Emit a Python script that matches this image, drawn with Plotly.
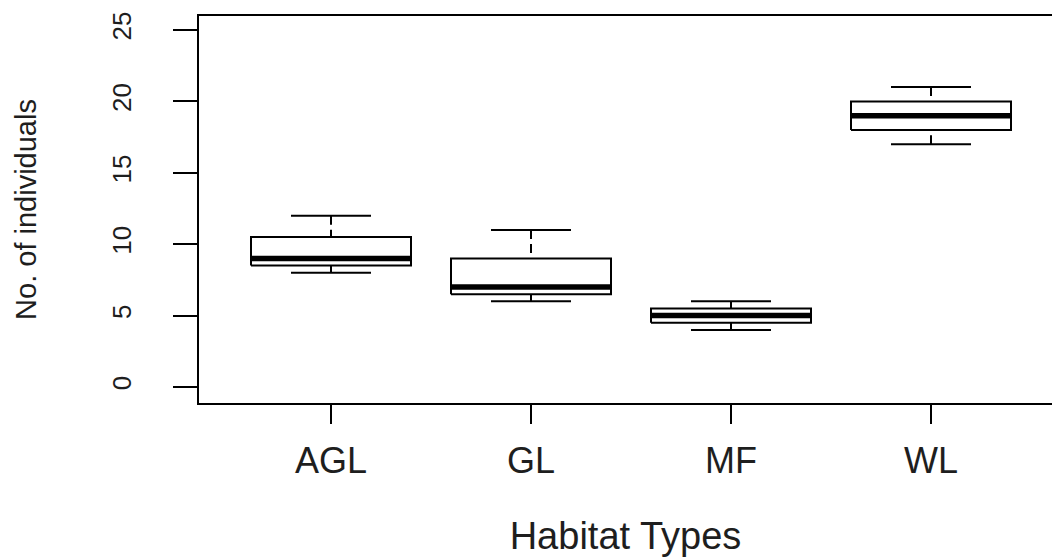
import plotly.graph_objects as go

# Data
categories = ["AGL", "GL", "MF", "WL"]
mins = [8, 6, 4, 17]
q1s = [8.5, 6.5, 4.5, 18]
medians = [9, 7, 5, 19]
q3s = [10.5, 9, 5.5, 20]
maxs = [12, 11, 6, 21]

y_ticks = [0, 5, 10, 15, 20, 25]

BOX_HALF = 0.4
STAPLE_HALF = 0.2
FONT = "Liberation Sans, Arial, sans-serif"
TXT = "#1e1e1e"

positions = list(range(1, len(categories) + 1))

box_x, box_y = [], []
med_x, med_y = [], []
wh_x, wh_y = [], []
st_x, st_y = [], []
for p, lo, a, m, b, hi in zip(positions, mins, q1s, medians, q3s, maxs):
    box_x += [p - BOX_HALF, p + BOX_HALF, p + BOX_HALF, p - BOX_HALF, p - BOX_HALF, None]
    box_y += [a, a, b, b, a, None]
    med_x += [p - BOX_HALF, p + BOX_HALF, None]
    med_y += [m, m, None]
    wh_x += [p, p, None, p, p, None]
    wh_y += [hi, b, None, lo, a, None]
    st_x += [p - STAPLE_HALF, p + STAPLE_HALF, None, p - STAPLE_HALF, p + STAPLE_HALF, None]
    st_y += [hi, hi, None, lo, lo, None]

fig = go.Figure()
fig.add_trace(go.Scatter(x=wh_x, y=wh_y, mode="lines",
                         line=dict(color="black", width=2, dash="9px,5px"),
                         hoverinfo="skip", showlegend=False))
fig.add_trace(go.Scatter(x=st_x, y=st_y, mode="lines",
                         line=dict(color="black", width=2),
                         hoverinfo="skip", showlegend=False))
fig.add_trace(go.Scatter(x=box_x, y=box_y, mode="lines", fill="toself",
                         fillcolor="white",
                         line=dict(color="black", width=2),
                         hoverinfo="skip", showlegend=False))
fig.add_trace(go.Scatter(x=med_x, y=med_y, mode="lines",
                         line=dict(color="black", width=5.5),
                         hoverinfo="skip", showlegend=False))

fig.update_layout(
    width=1052, height=557,
    margin=dict(l=199, r=0, t=16, b=154),
    paper_bgcolor="white", plot_bgcolor="white",
    font=dict(family=FONT, color=TXT),
    showlegend=False,
)
fig.update_xaxes(
    range=[0.34, 4.605],
    tickmode="array", tickvals=positions, ticktext=categories,
    ticks="outside", ticklen=19, tickwidth=2, tickcolor="black",
    tickfont=dict(size=36, family=FONT, color=TXT),
    ticklabelstandoff=6,
    showline=True, linecolor="black", linewidth=2, mirror=True,
    showgrid=False, zeroline=False,
    title=dict(text="Habitat Types", font=dict(size=38, family=FONT, color=TXT), standoff=50),
)
fig.update_yaxes(
    range=[-1.12, 25.98],
    tickmode="array", tickvals=y_ticks, ticktext=[str(v) for v in y_ticks],
    ticks="outside", ticklen=24, tickwidth=2, tickcolor="black",
    tickangle=-90,
    tickfont=dict(size=26, family=FONT, color=TXT),
    ticklabelstandoff=32,
    showline=True, linecolor="black", linewidth=2, mirror=False,
    showgrid=False, zeroline=False,
    title=dict(text="No. of individuals", font=dict(size=29, family=FONT, color=TXT), standoff=61),
)

fig.write_html("out.html", config={"displayModeBar": False},
               post_script="document.body.style.margin='0px';")
